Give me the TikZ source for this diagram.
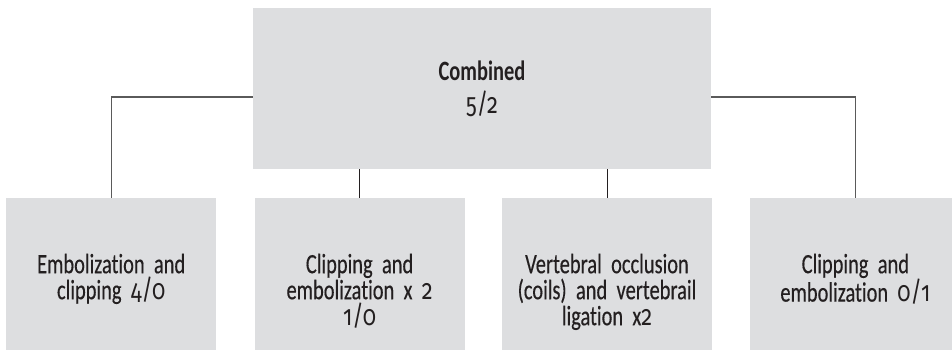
\documentclass[tikz,border=0pt]{standalone}
\usepackage{fontspec}
\setmainfont{Carlito}[FakeStretch=0.73, Ligatures=NoCommon, UprightFeatures={FakeBold=0.35}]
\newfontfamily\oldfig{Fira Sans}[Numbers=OldStyle, FakeStretch=0.78]
\newcommand{\nums}[1]{{\oldfig #1}}
\newcommand{\boxfont}{\fontsize{28}{26}\selectfont\spaceskip=5pt plus 1pt\relax}
\usetikzlibrary{positioning}
\definecolor{BoxGrey}{RGB}{221,222,224}
\definecolor{Ink}{RGB}{35,31,32}
\definecolor{LinkGrey}{RGB}{90,90,90}
\tikzset{
  topbox/.style={fill=BoxGrey, text=Ink, align=center, minimum width=458pt, minimum height=161pt,
    inner sep=0pt, font=\boxfont},
  leaf/.style={fill=BoxGrey, text=Ink, align=center, text width=210pt, inner sep=0pt,
    text height=75pt, text depth=77pt, font=\boxfont},
  link/.style={draw=LinkGrey, line width=1.2pt},
  stub/.style={draw=Ink, line width=0.9pt},
}
\begin{document}
\begin{tikzpicture}[x=1pt,y=1pt]
\useasboundingbox (0,0) rectangle (952,354);
\clip (0,0) rectangle (952,354);

% ---------------- combined (top) ----------------
\node[topbox] (comb) at (482,265.5) {\textbf{Combined}\\[7pt]\nums{5/2}};

% ---------------- treatment row ----------------
\node[leaf, anchor=north west] (emb) at (6,156) {Embolization and\\ clipping \nums{4/0}};
\node[leaf, right=38pt of emb] (clip2) {Clipping and\\ embolization x \nums{2}\\ \nums{1/0}};
\node[leaf, right=37pt of clip2] (vert) {Vertebral occlusion\\ (coils) and vertebrail\\ ligation x\nums{2}};
\node[leaf, right=38pt of vert] (clip01) {Clipping and\\ embolization \nums{0/1}};

% outer branches leave the sides of the top box, inner ones drop from its base
\draw[link] ([yshift=-8.5pt]comb.west) -| (emb.north);
\draw[link] ([yshift=-8.5pt]comb.east) -| (clip01.north);
\draw[stub] (clip2.north |- comb.south) -- (clip2.north);
\draw[stub] (vert.north |- comb.south) -- (vert.north);

\end{tikzpicture}
\end{document}
